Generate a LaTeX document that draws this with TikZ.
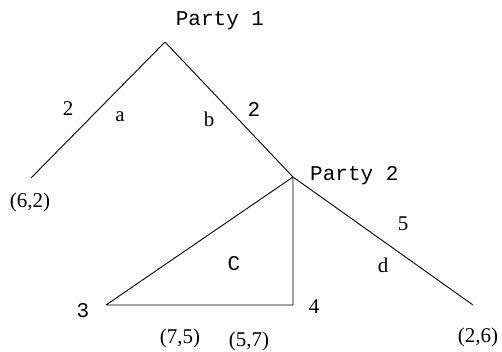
\documentclass[tikz,border=0pt]{standalone}
\usepackage{fontspec}
\setmainfont{Liberation Serif}
\setmonofont{Liberation Mono}
\usetikzlibrary{positioning}
\tikzset{
  vtx/.style={inner sep=0pt,minimum size=0pt},
  lbl/.style={inner sep=0pt,font=\fontsize{21}{24}\selectfont},
  tlbl/.style={inner sep=0pt,font=\fontsize{21}{24}\selectfont\ttfamily},
  br/.style={draw,line width=0.9pt},
}
\begin{document}
\begin{tikzpicture}[x=1pt,y=-1pt]
  \useasboundingbox (0,0) rectangle (502,352);
  \node[vtx] (p1) at (165,42) {};
  \node[vtx] (la) at (31,178) {};
  \node[vtx] (p2) at (293,177) {};
  \node[vtx] (c3) at (106,305) {};
  \node[vtx] (c4) at (293,305) {};
  \node[vtx] (ld) at (473,305) {};
  \draw[br] (la) -- (p1) -- (p2) -- (ld);
  \draw[br] (p2) -- (c3) -- (c4) -- (p2);
  \node[tlbl] (n1) at (220,21) {Party 1};
  \node[tlbl,anchor=west] (n2) at (310,176) {Party 2};
  \node[lbl] (wa) at (68,109) {2};
  \node[lbl] (ea) at (120,117) {a};
  \node[lbl] (eb) at (209,119) {b};
  \node[tlbl] (wb) at (254,109) {2};
  \node[lbl] (pa) at (30,202) {(6,2)};
  \node[tlbl] (ec) at (234,264) {C};
  \node[tlbl] (w3) at (83,311) {3};
  \node[lbl] (w4) at (314,307) {4};
  \node[lbl] (w5) at (403,224) {5};
  \node[lbl] (ed) at (383,265) {d};
  \node[lbl] (p3) at (180,338) {(7,5)};
  \node[lbl] (p4) at (249,341) {(5,7)};
  \node[lbl] (pd) at (478,337) {(2,6)};
\end{tikzpicture}
\end{document}
